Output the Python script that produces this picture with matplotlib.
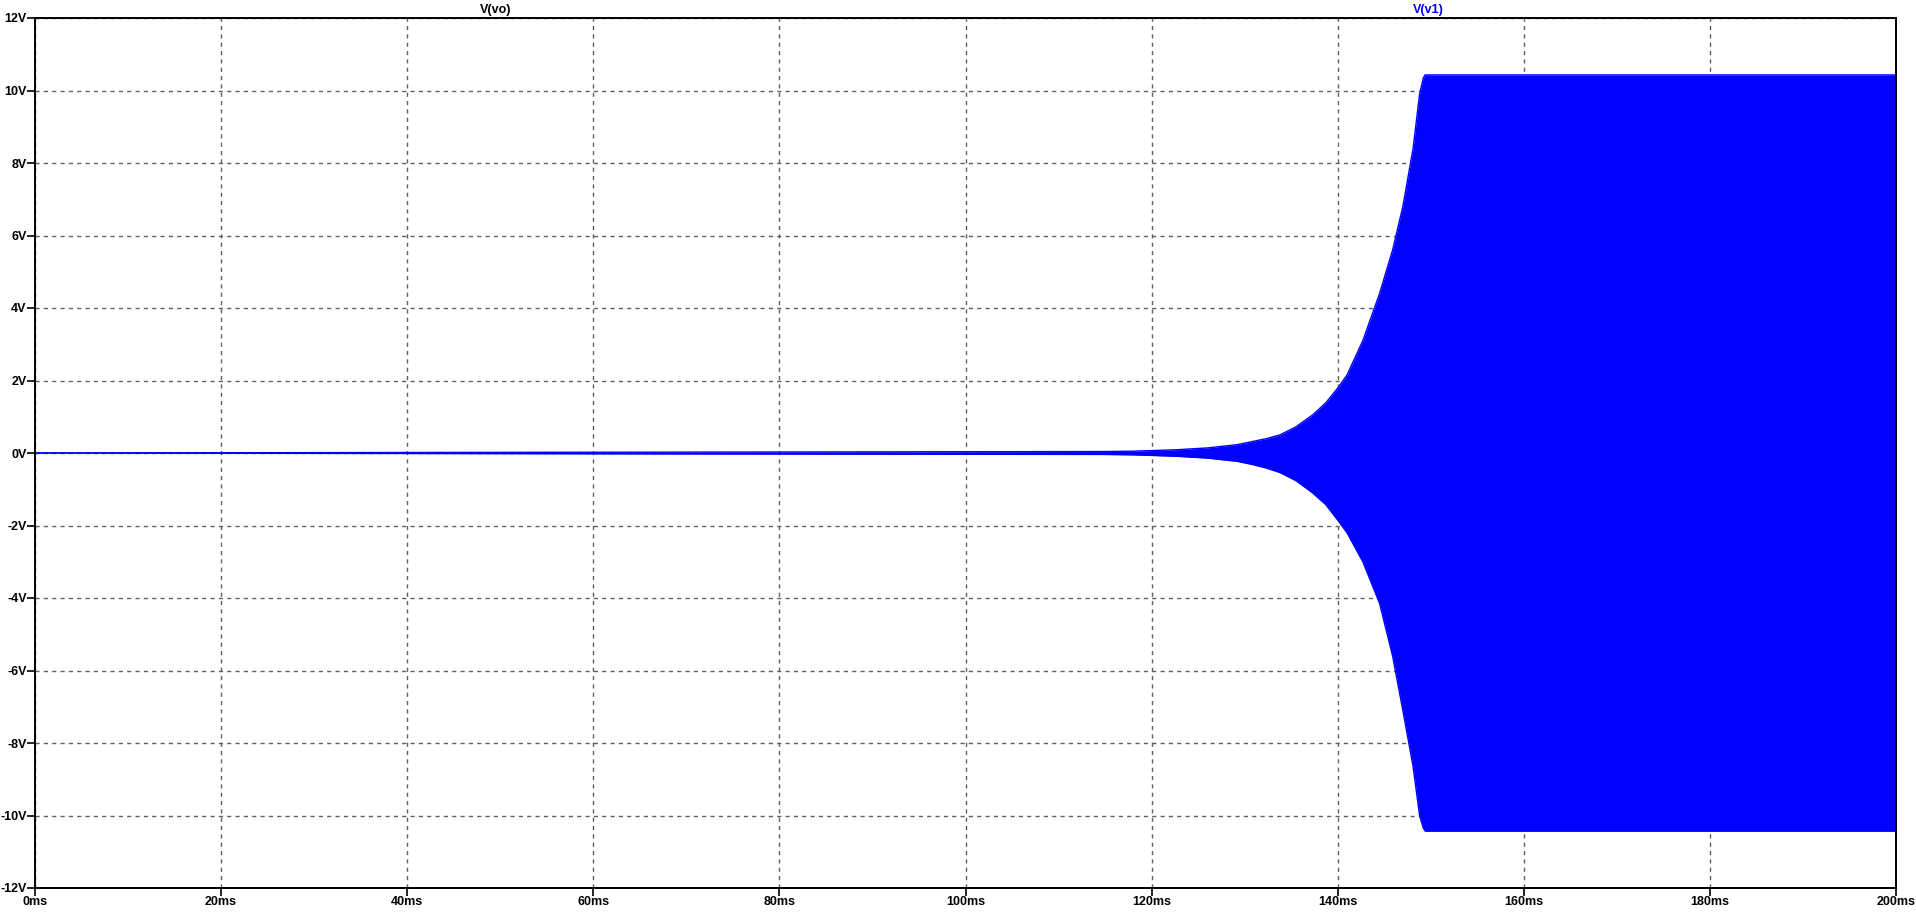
import matplotlib
matplotlib.use('Agg')
import numpy as np
import matplotlib.pyplot as plt
from matplotlib import font_manager

# ---------------------------------------------------------------------------
# Data (envelope of V(v1), in ms / V)
# ---------------------------------------------------------------------------
time_ms = [0.0, 114.7, 118.0, 122.7, 126.0, 129.2, 130.9, 132.4, 133.8,
           135.5, 137.3, 138.7, 140.0, 141.0, 142.7, 144.5, 145.9, 147.0,
           148.1, 148.8, 149.2, 149.4, 200.0]
env_top = [0.0, 0.04, 0.05, 0.09, 0.14, 0.23, 0.32, 0.40, 0.50,
           0.72, 1.05, 1.38, 1.79, 2.15, 3.10, 4.40, 5.60, 6.80,
           8.40, 9.90, 10.35, 10.43, 10.43]
env_bot = [0.0, -0.04, -0.05, -0.09, -0.14, -0.23, -0.32, -0.42, -0.54,
           -0.76, -1.10, -1.42, -1.85, -2.20, -3.00, -4.15, -5.60, -7.10,
           -8.65, -10.00, -10.35, -10.43, -10.43]

x_ticks = [0, 20, 40, 60, 80, 100, 120, 140, 160, 180, 200]
x_labels = [f'{v}ms' for v in x_ticks]
y_ticks = [-12, -10, -8, -6, -4, -2, 0, 2, 4, 6, 8, 10, 12]
y_labels = [f'{v}V' for v in y_ticks]

trace_names = ['V(vo)', 'V(v1)']
trace_colors = ['black', '#0000ff']

# ---------------------------------------------------------------------------
# Plot
# ---------------------------------------------------------------------------
names = {f.name for f in font_manager.fontManager.ttflist}
narrow = 'Liberation Sans Narrow' in names
plt.rcParams['font.family'] = (['Liberation Sans Narrow'] if narrow else []) + \
    ['Liberation Sans', 'DejaVu Sans']
fs = 11 if narrow else 9

fig = plt.figure(figsize=(19.16, 9.14), dpi=100)
ax = fig.add_axes([35 / 1916, 1 - 888 / 914, (1896 - 35) / 1916, (888 - 18) / 914])

t = np.array(time_ms)
hi = np.array(env_top)
lo = np.array(env_bot)
ax.fill_between(t, lo, hi, color=trace_colors[1], lw=0)
ax.plot(t, hi, color=trace_colors[1], lw=1)
ax.plot(t, lo, color=trace_colors[1], lw=1)

ax.set_xlim(0, 200)
ax.set_ylim(-12, 12)
ax.set_xticks(x_ticks)
ax.set_xticklabels(x_labels)
ax.set_yticks(y_ticks)
ax.set_yticklabels(y_labels)
ax.tick_params(axis='both', direction='out', length=5.5, width=1.2,
               labelsize=fs, pad=0.5)
for lab in ax.get_xticklabels() + ax.get_yticklabels():
    lab.set_fontweight('bold')

ax.grid(True, color='#606060', ls=(0, (3, 3)), lw=1)
ax.set_axisbelow(True)
for s in ax.spines.values():
    s.set_linewidth(1.4)

# trace names above the plot
ax.text(0.2475, 1.002, trace_names[0], transform=ax.transAxes, ha='center',
        va='bottom', fontsize=fs, fontweight='bold', color=trace_colors[0])
ax.text(0.7485, 1.002, trace_names[1], transform=ax.transAxes, ha='center',
        va='bottom', fontsize=fs, fontweight='bold', color=trace_colors[1])

fig.savefig('out.png', dpi=100)
